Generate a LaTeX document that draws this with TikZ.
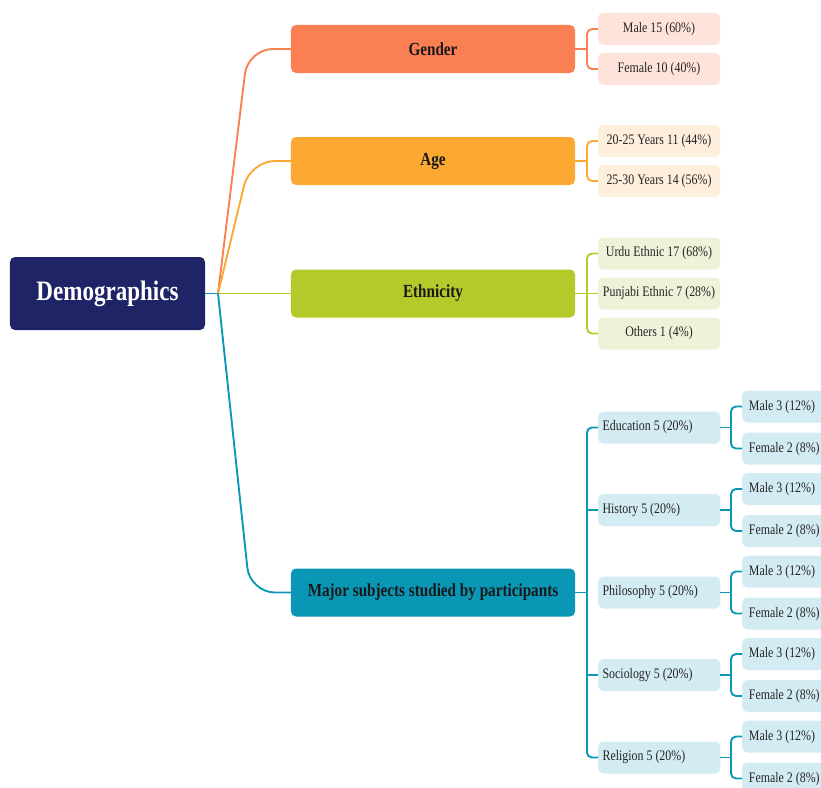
\documentclass[tikz,border=0pt]{standalone}
\usepackage{fontspec}
\setmainfont{Liberation Serif}[FakeStretch=0.82]
\usepackage{tikz}
\usepackage{xcolor}

\definecolor{navy}{HTML}{1F2466}
\definecolor{coral}{HTML}{FA7F52}
\definecolor{amber}{HTML}{FBA933}
\definecolor{lime}{HTML}{B6C92A}
\definecolor{sea}{HTML}{0A97B5}
\definecolor{coralpale}{HTML}{FDE3DA}
\definecolor{amberpale}{HTML}{FEEEDC}
\definecolor{limepale}{HTML}{EEF2D9}
\definecolor{seapale}{HTML}{D3EBF2}

\newcommand{\subtext}[1]{\makebox[3.4cm][l]{#1}}
\newcommand{\tiptext}[1]{\makebox[3.26cm][l]{#1}}

\tikzset{
  rootbox/.style={fill=navy,rounded corners=0.15cm,minimum width=5.85cm,minimum height=2.19cm,
    text=white,font=\fontsize{24}{28}\selectfont\bfseries},
  mainbox/.style={rounded corners=0.15cm,minimum width=8.52cm,minimum height=1.44cm,
    text=black!90,font=\fontsize{15.8}{18}\selectfont\bfseries},
  leafbox/.style={rounded corners=0.15cm,minimum width=3.66cm,minimum height=0.96cm,inner sep=0pt,
    text=black!85,font=\fontsize{12.4}{14}\selectfont},
  subbox/.style={leafbox,fill=seapale,inner xsep=0.13cm},
  tipbox/.style={leafbox,fill=seapale,inner xsep=0.2cm},
  link/.style={line width=1.6pt},
  forklink/.style={link,rounded corners=0.15cm}
}

\begin{document}
\begin{tikzpicture}[x=0.03cm,y=-0.03cm]
\useasboundingbox (0,0) rectangle (821,787);
\clip (0,0) rectangle (821,787);

% root and main branches
\node[rootbox] (demo) at (107.5,293.5) {Demographics};
\node[mainbox,fill=coral] (gender) at (433,49) {Gender};
\node[mainbox,fill=amber] (age) at (433,161) {Age};
\node[mainbox,fill=lime] (ethnic) at (433,293.5) {Ethnicity};
\node[mainbox,fill=sea] (major) at (433,592.5) {Major subjects studied by participants};

\coordinate (hub) at (218,293.5);
\draw[link,sea] (demo.east) -- (hub);
\draw[link,coral,rounded corners=0.75cm] (hub) -- (248,49) -- (gender.west);
\draw[link,amber,rounded corners=0.75cm] (hub) -- (250,161) -- (age.west);
\draw[link,lime] (hub) -- (ethnic.west);
\draw[link,sea,rounded corners=0.75cm] (hub) -- (250,592.5) -- (major.west);

% gender
\node[leafbox,fill=coralpale] (male) at (659,29) {Male 15 (60\%)};
\node[leafbox,fill=coralpale] (female) at (659,69) {Female 10 (40\%)};
\coordinate (gfork) at (587,49);
\draw[link,coral] (gender.east) -- (gfork);
\draw[forklink,coral] (gfork) |- (male.west);
\draw[forklink,coral] (gfork) |- (female.west);

% age
\node[leafbox,fill=amberpale] (young) at (659,141) {20-25 Years 11 (44\%)};
\node[leafbox,fill=amberpale] (older) at (659,181) {25-30 Years 14 (56\%)};
\coordinate (afork) at (587,161);
\draw[link,amber] (age.east) -- (afork);
\draw[forklink,amber] (afork) |- (young.west);
\draw[forklink,amber] (afork) |- (older.west);

% ethnicity
\node[leafbox,fill=limepale] (urdu) at (659,253.5) {Urdu Ethnic 17 (68\%)};
\node[leafbox,fill=limepale] (punjabi) at (659,293.5) {Punjabi Ethnic 7 (28\%)};
\node[leafbox,fill=limepale] (others) at (659,333.5) {Others 1 (4\%)};
\coordinate (efork) at (587,293.5);
\draw[link,lime] (ethnic.east) -- (punjabi.west);
\draw[forklink,lime] (efork) |- (urdu.west);
\draw[forklink,lime] (efork) |- (others.west);

% subjects
\coordinate (sfork) at (587,592.5);
\draw[link,sea] (major.east) -- (sfork);
\foreach \s/\y/\lab in {edu/427.5/Education,hist/510/History,phil/592.5/Philosophy,soc/675/Sociology,rel/757.5/Religion}{
  \node[subbox,anchor=west] (\s) at (598,\y) {\subtext{\lab\ 5 (20\%)}};
  \node[tipbox,anchor=west] (\s-male) at (742,\y-21) {\tiptext{Male 3 (12\%)}};
  \node[tipbox,anchor=west] (\s-female) at (742,\y+21) {\tiptext{Female 2 (8\%)}};
  \coordinate (\s-fork) at (731,\y);
  \draw[link,sea] (\s.east) -- (\s-fork);
  \draw[forklink,sea] (\s-fork) |- (\s-male.west);
  \draw[forklink,sea] (\s-fork) |- (\s-female.west);
}
\draw[forklink,sea] (sfork) |- (edu.west);
\draw[forklink,sea] (sfork) |- (rel.west);
\draw[link,sea] (sfork |- hist.west) -- (hist.west);
\draw[link,sea] (sfork |- soc.west) -- (soc.west);
\end{tikzpicture}
\end{document}
